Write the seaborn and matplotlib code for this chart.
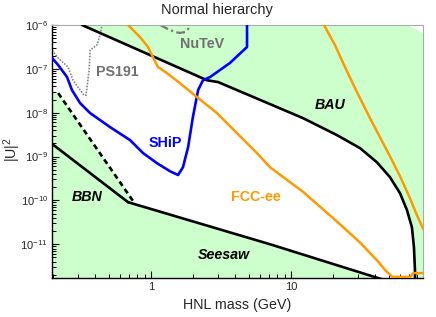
import numpy as np
import pandas as pd
import matplotlib
matplotlib.use("Agg")
import matplotlib.pyplot as plt
import matplotlib.ticker as mticker
import seaborn as sns

# ---------------- data ----------------
bau_m  = [0.321, 2.51, 3.01, 7.08, 12.2, 21.3, 31.1, 41.1, 50.9, 60.1, 67.4, 73.1, 75.6, 76.9, 77.0]
bau_u2 = [1e-6, 5.5e-8, 5.0e-8, 1.57e-8, 7.5e-9, 3.08e-9, 1.56e-9, 7.4e-10, 3.4e-10, 1.46e-10,
          6.0e-11, 2.44e-11, 8.5e-12, 2.5e-12, 1.0e-12]

seesaw_m  = [0.685, 7.08, 90.0]
seesaw_u2 = [9.1e-11, 1.0e-11, 7.9e-13]

bbn_solid_m  = [0.19, 0.685]
bbn_solid_u2 = [2.1e-9, 9.1e-11]

bbn_dash_m  = [0.217, 0.769]
bbn_dash_u2 = [2.8e-8, 8.3e-11]

ps191_m  = [0.19, 0.217, 0.255, 0.277, 0.311, 0.332, 0.343, 0.361, 0.367, 0.411, 0.432, 0.446]
ps191_u2 = [3.0e-7, 1.77e-7, 1.1e-7, 5.5e-8, 3.3e-8, 2.5e-8, 2.5e-8, 9.4e-8, 2.69e-7, 3.5e-7, 5.9e-7, 1.0e-6]

nutev_m  = [1.16, 1.32, 1.48, 1.61, 1.75, 1.84, 1.90]
nutev_u2 = [1.0e-6, 8.1e-7, 6.9e-7, 6.6e-7, 6.9e-7, 8.1e-7, 1.0e-6]

ship_m  = [0.19, 0.217, 0.251, 0.272, 0.311, 0.367, 0.509, 0.708, 0.877, 1.10, 1.37, 1.56,
           1.69, 1.84, 1.99, 2.17, 2.35, 2.64, 3.66, 4.85, 4.85]
ship_u2 = [2.0e-7, 1.22e-7, 6.5e-8, 3.3e-8, 1.66e-8, 9.8e-9, 4.7e-9, 2.37e-9, 1.2e-9, 7.1e-10,
           4.6e-10, 3.8e-10, 5.7e-10, 1.64e-9, 7.9e-9, 3.3e-8, 5.5e-8, 6.5e-8, 1.36e-7, 3.15e-7, 1.3e-6]

fcc_low_m  = [0.685, 0.834, 0.952, 1.03, 1.12, 1.30, 1.61, 2.13, 2.96, 4.11, 5.71, 7.08, 12.2,
              21.3, 31.1, 42.0, 47.5, 53.0, 71.0, 74.8, 90.0]
fcc_low_u2 = [1e-6, 5.3e-7, 3.15e-7, 1.86e-7, 1.1e-7, 8.0e-8, 4.7e-8, 2.27e-8, 9.8e-9, 3.42e-9,
              1.2e-9, 5.7e-10, 1.57e-10, 3.3e-11, 1.1e-11, 4.0e-12, 2.5e-12, 1.8e-12,
              1.8e-12, 2.2e-12, 2.2e-12]

fcc_up_m  = [17.2, 20.6, 24.3, 29.6, 36.7, 43.2, 50.9, 60.1, 70.8, 79.4, 87.7, 90.0]
fcc_up_u2 = [1e-6, 3.5e-7, 1.1e-7, 2.95e-8, 7.5e-9, 2.77e-9, 1.02e-9, 3.57e-10, 1.12e-10, 4.6e-11, 2.3e-11, 2.0e-11]

corner_m  = [68.5, 80.0, 90.0]
corner_u2 = [1e-6, 7.7e-7, 6.2e-7]

x_ticks = [1, 10]
x_ticklabels = ["1", "10"]
y_ticks = [1e-11, 1e-10, 1e-9, 1e-8, 1e-7, 1e-6]

XMIN, XMAX = 0.196, 87.3
YMIN, YMAX = 1.7e-12, 1e-6

GREEN = "#ccffcc"
BLUE = "#0000ff"
ORANGE = "#ff9900"
GRAY = "#707070"

# ---------------- style ----------------
sns.set_theme(style="ticks")
plt.rcParams["font.family"] = ["Liberation Sans", "DejaVu Sans"]
plt.rcParams["mathtext.default"] = "regular"

fig = plt.figure(figsize=(4.36, 3.17), dpi=100)
ax = fig.add_axes([52 / 436, 1 - 278 / 317, (422.7 - 52) / 436, (278 - 25) / 317])
ax.set_xscale("log")
ax.set_yscale("log")
ax.set_xlim(XMIN, XMAX)
ax.set_ylim(YMIN, YMAX)

# ---------------- green excluded regions ----------------
up_x = list(bau_m) + [XMAX * 1.1, XMAX * 1.1] + corner_m[::-1]
up_y = list(bau_u2) + [YMIN * 0.5, corner_u2[-1]] + corner_u2[::-1]
ax.fill(up_x, up_y, color=GREEN, lw=0, zorder=0)

lo_x = [XMIN * 0.9, XMIN * 0.9] + list(bbn_dash_m) + list(seesaw_m[1:]) + [seesaw_m[-1]]
lo_y = [YMIN * 0.5, bbn_dash_u2[0]] + list(bbn_dash_u2) + list(seesaw_u2[1:]) + [YMIN * 0.5]
ax.fill(lo_x, lo_y, color=GREEN, lw=0, zorder=0)

# ---------------- curves ----------------
def line(mx, uy, **kw):
    df = pd.DataFrame({"m": mx, "u2": uy})
    sns.lineplot(data=df, x="m", y="u2", sort=False, estimator=None, ax=ax, **kw)

line(bau_m, bau_u2, color="black", lw=1.9, zorder=3)
line(seesaw_m, seesaw_u2, color="black", lw=1.9, zorder=3)
line(bbn_solid_m, bbn_solid_u2, color="black", lw=1.9, zorder=3)
line(bbn_dash_m, bbn_dash_u2, color="black", lw=1.9, ls=(0, (2, 1.4)), zorder=3)
line(ps191_m, ps191_u2, color="#888888", lw=1.2, ls=(0, (1, 0.8)), zorder=2)
line(nutev_m, nutev_u2, color="#777777", lw=1.6, ls=(0, (4, 1.5, 1, 1.5)), zorder=2)
line(ship_m, ship_u2, color=BLUE, lw=1.9, zorder=4)
line(fcc_low_m, fcc_low_u2, color=ORANGE, lw=1.8, zorder=4)
line(fcc_up_m, fcc_up_u2, color=ORANGE, lw=1.8, zorder=4)

# ---------------- labels ----------------
fs = 10.3
ax.text(0.571, 8.5e-8, "PS191", color=GRAY, fontsize=fs, fontweight="bold", ha="center", va="center")
ax.text(2.31, 3.6e-7, "NuTeV", color=GRAY, fontsize=fs, fontweight="bold", ha="center", va="center")
ax.text(1.26, 2.0e-9, "SHiP", color=BLUE, fontsize=fs, fontweight="bold", ha="center", va="center")
ax.text(5.62, 1.18e-10, "FCC-ee", color=ORANGE, fontsize=fs, fontweight="bold", ha="center", va="center")
ax.text(19.0, 1.5e-8, "BAU", color="black", fontsize=fs, fontweight="bold", style="italic", ha="center", va="center")
ax.text(0.349, 1.18e-10, "BBN", color="black", fontsize=fs, fontweight="bold", style="italic", ha="center", va="center")
ax.text(3.32, 5.8e-12, "Seesaw", color="black", fontsize=fs, fontweight="bold", style="italic", ha="center", va="center")

# ---------------- axes ----------------
ax.xaxis.set_major_locator(mticker.FixedLocator(x_ticks))
ax.xaxis.set_major_formatter(mticker.FixedFormatter(x_ticklabels))
ax.xaxis.set_minor_locator(mticker.LogLocator(base=10, subs=np.arange(2, 10)))
ax.xaxis.set_minor_formatter(mticker.NullFormatter())
ax.yaxis.set_major_locator(mticker.FixedLocator(y_ticks))
ax.yaxis.set_major_formatter(mticker.LogFormatterSciNotation())
ax.yaxis.set_minor_locator(mticker.LogLocator(base=10, subs=np.arange(2, 10), numticks=20))
ax.yaxis.set_minor_formatter(mticker.NullFormatter())
ax.tick_params(which="both", direction="in", top=False, right=False, labelsize=8, pad=3, color="black")
ax.tick_params(which="major", length=5, width=0.8)
ax.tick_params(which="minor", length=3, width=0.7)

for s in ["left", "bottom"]:
    ax.spines[s].set_color("black")
    ax.spines[s].set_linewidth(1.0)
for s in ["top", "right"]:
    ax.spines[s].set_color("#aaaaaa")
    ax.spines[s].set_linewidth(0.8)

ax.set_xlabel("HNL mass (GeV)", fontsize=fs, labelpad=4)
ax.set_ylabel("")
fig.text(12 / 436, 1 - 150 / 317, r"$|U|^2$", fontsize=fs, rotation=90, ha="center", va="center")
fig.text(217 / 436, 1 - 10 / 317, "Normal hierarchy", fontsize=10.5, ha="center", va="center")

fig.savefig("out.png", dpi=100)
